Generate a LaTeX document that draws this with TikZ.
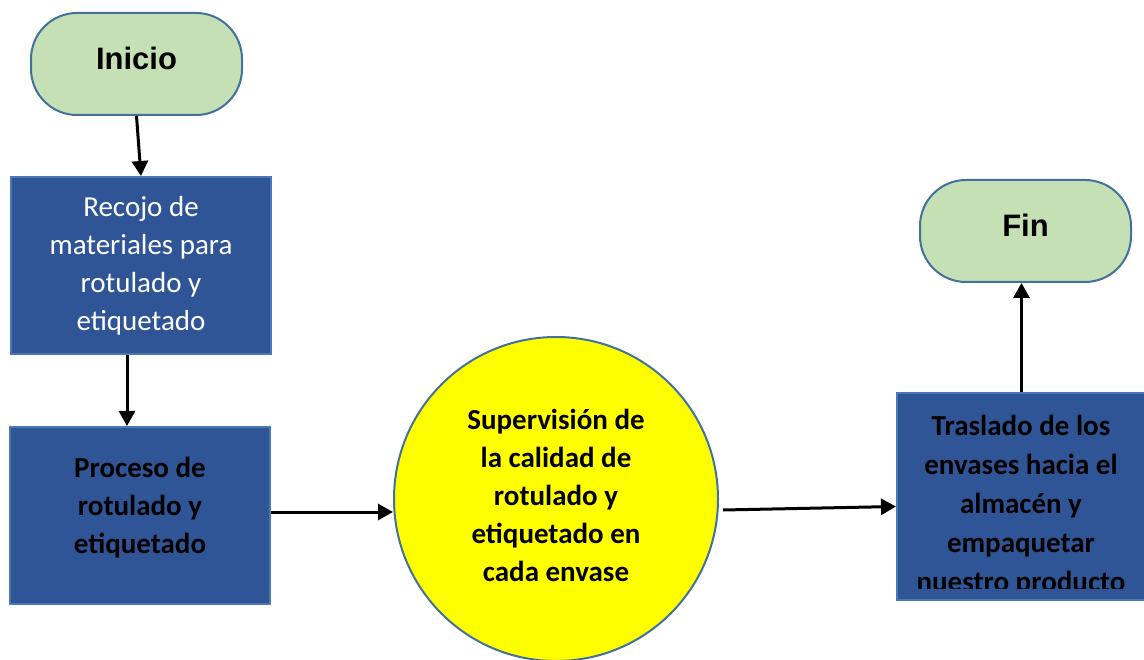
\documentclass[tikz,border=0pt]{standalone}
\usepackage{fontspec}
\setmainfont{Carlito}
\newfontfamily\arialfont{Liberation Sans}
\usetikzlibrary{arrows.meta}
\usetikzlibrary{shapes.geometric}
\definecolor{termgreen}{HTML}{C5E0B4}
\definecolor{edgeblue}{HTML}{41719C}
\definecolor{boxblue}{HTML}{2F5597}
\definecolor{boxedge}{HTML}{4A78B4}
\definecolor{checkyellow}{HTML}{FFFF00}
\newcommand*{\bigtext}{\fontsize{29}{38}\selectfont}

\begin{document}
\begin{tikzpicture}[x=1pt, y=-1pt,
		terminal/.style = {draw=edgeblue, line width=2pt, fill=termgreen,
			rounded corners=46pt, minimum width=211pt, minimum height=102pt,
			text depth=12pt,
			font=\arialfont\fontsize{31}{36}\selectfont\bfseries},
		procbox/.style = {draw=boxedge, line width=2pt, fill=boxblue,
			minimum width=260pt, align=center, font=\bigtext},
		flow/.style = {line width=3pt, -{Triangle[length=15pt,width=16pt]}}]
		\useasboundingbox (0,0) rectangle (1144,660);
		% start and first two steps
		\node[terminal] (ini) at (136.5,64) {Inicio};
		\node[procbox, minimum height=177pt, text=white] (rec) at (141,265.5)
			{Recojo de\\materiales para\\rotulado y\\etiquetado};
		\node[procbox, minimum height=177pt, font=\bigtext\bfseries,
			text depth=20pt] (pro) at (140,515.5)
			{Proceso de\\rotulado y\\etiquetado};
		% check
		\node[circle, draw=edgeblue, line width=2pt, fill=checkyellow,
			minimum size=324pt, align=center, font=\bigtext\bfseries,
			text depth=8pt] (sup) at (556,499)
			{Supervisi\'on de\\la calidad de\\rotulado y\\etiquetado en\\cada envase};
		% last step and end
		\node[procbox, minimum width=249pt, minimum height=207pt] (tras)
			at (1021.5,496.5) {};
		\begin{scope}
			\clip (897,393) rectangle (1146,588);
			\node[align=center, font=\fontsize{29}{39}\selectfont\bfseries]
				(trastxt) at (1021,505.5)
				{Traslado de los\\envases hacia el\\almac\'en y\\empaquetar\\nuestro producto};
		\end{scope}
		\node[terminal] (fin) at (1025.5,231) {Fin};
		\draw[flow] (ini.south) -- (rec.north);
		\draw[flow] ([xshift=-14pt]rec.south) -- ([xshift=-13pt]pro.north);
		\draw[flow] ([yshift=3.5pt]pro.east) -- ([yshift=3.5pt]pro.east -| sup.west);
		\draw[flow] ([shift={(4pt,-11pt)}]sup.east) -- ([yshift=-10pt]tras.west);
		\draw[flow] (tras.north) -- (tras.north |- fin.south);
\end{tikzpicture}
\end{document}
